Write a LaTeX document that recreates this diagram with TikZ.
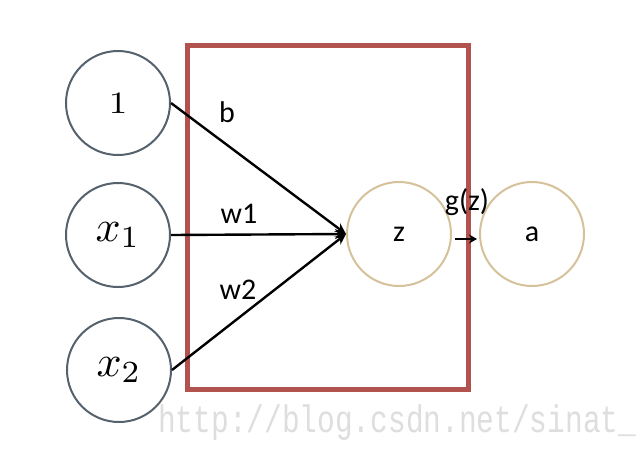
\documentclass[tikz,border=0pt]{standalone}
\usepackage{fontspec}
\newfontfamily\labfont{Carlito}
\newfontfamily\wmfont{Liberation Mono}
\usetikzlibrary{arrows.meta}
\definecolor{incol}{RGB}{85,98,110}
\definecolor{outcol}{RGB}{214,194,154}
\definecolor{boxcol}{RGB}{178,82,79}
\definecolor{wmcol}{RGB}{222,222,222}
\tikzset{
  inneuron/.style={circle, draw=incol, line width=2pt, minimum size=104pt, inner sep=0pt},
  outneuron/.style={circle, draw=outcol, line width=2pt, minimum size=104pt, inner sep=0pt, font=\labfont\fontsize{30}{34}\selectfont},
  conn/.style={line width=2.4pt, -{Stealth[length=11pt,width=10pt]}},
  lab/.style={font=\labfont\fontsize{30}{34}\selectfont, inner sep=0pt},
}
\begin{document}
\begin{tikzpicture}[x=1pt,y=-1pt]
\useasboundingbox (0,0) rectangle (640,475);
\fill[white] (0,0) rectangle (640,475);
\node[inneuron] (one) at (118,103) {\scalebox{3.7}[3.1]{1}};
\node[inneuron] (x1) at (118,235) {\scalebox{4.4}{$x_1$}};
\node[inneuron] (x2) at (119,370) {\scalebox{4.4}{$x_2$}};
\node[outneuron] (z) at (399,234) {z};
\node[outneuron] (a) at (532,234) {a};
\node[draw=boxcol, line width=5pt, minimum width=281pt, minimum height=344pt, inner sep=0pt] (box) at (327.5,217.5) {};
\draw[conn] (one.east) -- (z.west);
\draw[conn] (x1.east) -- (z.west);
\draw[conn] (x2.east) -- (z.west);
\draw[line width=2.6pt, -{Stealth[length=8pt,width=9pt]}] ([xshift=3pt,yshift=-5pt]z.east) -- ([xshift=-2pt,yshift=-5pt]a.west);
\node[lab] (lb) at (227,112) {b};
\node[lab] (lw1) at (239,214) {w1};
\node[lab] (lw2) at (238,290) {w2};
\node[lab] (lg) at (467,202) {g(z)};
\node[anchor=base west, inner sep=0pt, text=wmcol, font=\wmfont\fontsize{29.5}{32}\selectfont] (wm) at (158,432) {\scalebox{1}[1.3]{http://blog.csdn.net/sinat\_}};
\end{tikzpicture}
\end{document}
